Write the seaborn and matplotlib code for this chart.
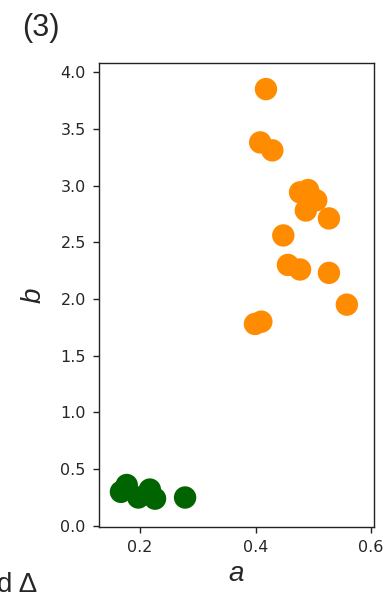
import matplotlib
matplotlib.use("Agg")
import matplotlib.pyplot as plt
import seaborn as sns
import pandas as pd

# cluster of high-b samples
orange_a = [0.418, 0.408, 0.429, 0.477, 0.491, 0.505, 0.487, 0.527, 0.448,
            0.456, 0.477, 0.527, 0.558, 0.399, 0.410]
orange_b = [3.85, 3.38, 3.31, 2.94, 2.96, 2.87, 2.78, 2.71, 2.56,
            2.30, 2.26, 2.23, 1.95, 1.78, 1.80]

# cluster of low-b samples
green_a = [0.167, 0.177, 0.197, 0.217, 0.226, 0.278]
green_b = [0.30, 0.36, 0.25, 0.32, 0.24, 0.25]

x_ticks = [0.2, 0.4, 0.6]
y_ticks = [0.0, 0.5, 1.0, 1.5, 2.0, 2.5, 3.0, 3.5, 4.0]

df = pd.DataFrame({
    "a": orange_a + green_a,
    "b": orange_b + green_b,
    "group": ["high"] * len(orange_a) + ["low"] * len(green_a),
})

sns.set_style("ticks")
plt.rcParams["font.family"] = ["DejaVu Sans"]
fig = plt.figure(figsize=(3.83, 5.93), dpi=100)
ax = fig.add_axes([99 / 383, 1 - 527 / 593, (374 - 99) / 383, (527 - 63) / 593])

sns.scatterplot(data=df, x="a", y="b", hue="group",
                palette={"high": "#FF8C00", "low": "#006400"},
                s=260, linewidth=0, alpha=1, legend=False, ax=ax)

ax.set_xlim(0.129, 0.605)
ax.set_ylim(-0.01, 4.08)
ax.set_xticks(x_ticks)
ax.set_yticks(y_ticks)
ax.set_xticklabels([f"{v:.1f}" for v in x_ticks], fontsize=11.5)
ax.set_yticklabels([f"{v:.1f}" for v in y_ticks], fontsize=11.5)
for side in ["top", "right", "left", "bottom"]:
    ax.spines[side].set_visible(True)
    ax.spines[side].set_color("#222222")
    ax.spines[side].set_linewidth(1.0)
ax.tick_params(direction="out", length=4.5, width=1.0, color="#222222", pad=5)

ax.set_xlabel("a", fontsize=20, fontstyle="italic", family="Liberation Sans")
ax.set_ylabel("b", fontsize=20, fontstyle="italic", family="Liberation Sans")
ax.xaxis.set_label_coords(0.5, -0.074)
ax.yaxis.set_label_coords(-0.19, 0.5)

fig.text(22 / 383, 1 - 36 / 593, "(3)", fontsize=22, family="Liberation Sans")
fig.text(-3 / 383, 1 - 592 / 593, "d Δ", fontsize=20, family="Liberation Sans")

fig.savefig("out.png", dpi=100)
